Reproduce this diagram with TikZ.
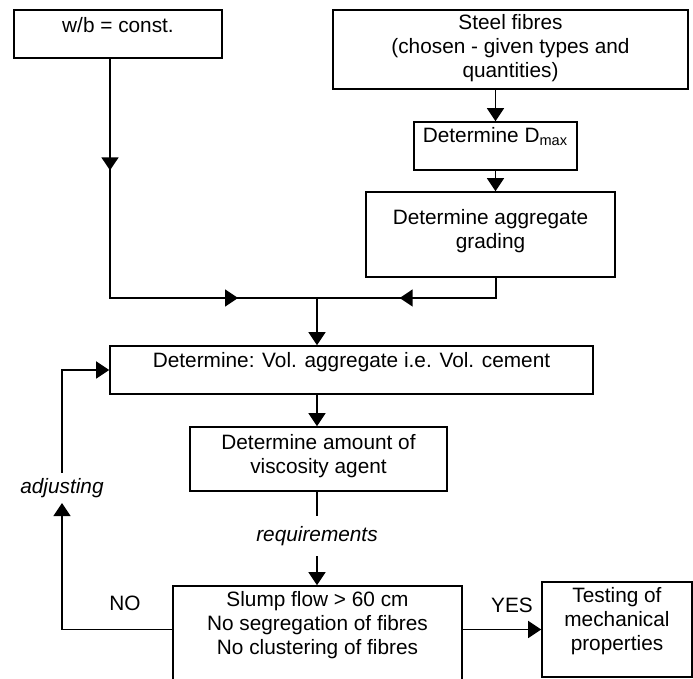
\documentclass[tikz,border=0pt]{standalone}
\usepackage{fontspec}
\setmainfont{Liberation Sans}
\usetikzlibrary{arrows.meta,positioning,decorations.markings}

\begin{document}
\begin{tikzpicture}[
  x=0.5pt, y=-0.5pt,
  >={Triangle[length=6.5pt, width=8.5pt]},
  box/.style={draw, line width=0.8pt, inner sep=0pt},
  txt/.style={inner sep=0pt, align=center, font=\fontsize{10.4}{12}\selectfont},
  lbl/.style={inner sep=0pt, font=\fontsize{10.4}{12}\selectfont},
  gap/.style={inner xsep=0pt, font=\fontsize{10.4}{12}\selectfont\itshape},
  line/.style={line width=0.8pt},
  arr/.style={->, line width=0.8pt}
]
\path[use as bounding box, clip] (0,0) rectangle (693,679);

% boxes
\node[box, minimum width=104pt, minimum height=24pt] (wb) at (118,34) {};
\node[box, minimum width=177.5pt, minimum height=39.5pt] (steel) at (510.5,49.5) {};
\node[box, minimum width=81.5pt, minimum height=24pt] (dmax) at (495.5,146) {};
\node[box, minimum width=124.5pt, minimum height=42.5pt] (grade) at (490.5,234.5) {};
\node[box, minimum width=241.5pt, minimum height=24pt] (vol) at (351.5,370) {};
\node[box, minimum width=128.5pt, minimum height=32pt] (visc) at (318.5,459) {};
\node[box, minimum width=144.5pt, minimum height=57pt] (slump) at (317.5,643) {};
\node[box, minimum width=75pt, minimum height=47.5pt] (test) at (617,629.5) {};

% texts
\node[txt, below=4pt of wb.north] (wbtxt) {w/b = const.};
\node[txt, below=2.5pt of steel.north] (steeltxt) {Steel fibres\\(chosen - given types and\\quantities)};
\node[txt, below=3pt of dmax.north] (dmaxtxt) {Determine D\textsubscript{max}};
\node[txt, below=9pt of grade.north] (gradetxt) {Determine aggregate\\grading};
\node[txt, below=3.5pt of vol.north] (voltxt) {Determine: Vol. aggregate i.e. Vol. cement};
\node[txt, below=4pt of visc.north] (visctxt) {Determine amount of\\viscosity agent};
\node[txt, below=3pt of slump.north] (slumptxt) {Slump flow > 60 cm\\No segregation of fibres\\No clustering of fibres};
\node[txt, below=3pt of test.north] (testtxt) {Testing of\\mechanical\\properties};

% labels
\node[gap, inner ysep=5pt] (req) at (317,536) {requirements};
\node[gap, inner ysep=2.5pt] (adj) at (62,488) {adjusting};
\node[lbl] (yes) at (512,605) {YES};
\node[lbl] (no) at (125,603) {NO};

% connectors
\coordinate (wbout) at ([xshift=-4pt]wb.south);
\coordinate (gradeout) at ([xshift=2.75pt]grade.south);
\coordinate (join) at (317,298);
\draw[line, postaction={decorate}, decoration={markings,
  mark=at position 0.25 with {\arrow{>}},
  mark=at position 0.823 with {\arrow{>}}}] (wbout) |- (join);
\draw[line, postaction={decorate}, decoration={markings,
  mark=at position 0.585 with {\arrow{>}}}] (gradeout) |- (join);
\draw[arr] (dmax.north |- steel.south) -- (dmax.north);
\draw[arr] (dmax.south) -- (dmax.south |- grade.north);
\draw[arr] (join) -- (join |- vol.north);
\draw[arr] (join |- vol.south) -- (join |- visc.north);
\draw[line] (join |- visc.south) -- (req);
\draw[arr] (req) -- (join |- slump.north);
\draw[arr] (slump.east |- test.west) -- (test.west);
\draw[arr] (slump.west |- test.west) -| (adj.south);
\draw[arr] (adj.north) |- (vol.west);
\end{tikzpicture}
\end{document}
